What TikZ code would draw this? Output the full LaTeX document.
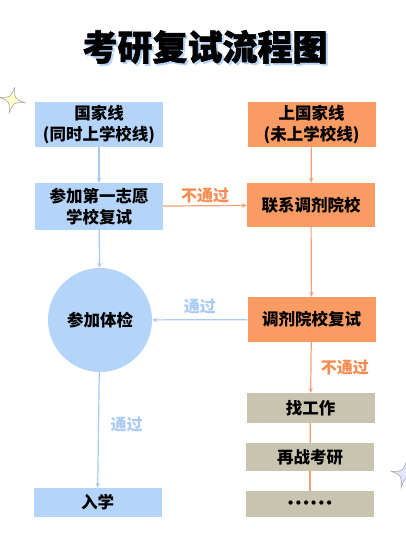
\documentclass[tikz,border=0pt]{standalone}
\usepackage{fontspec}
\newfontfamily\cjk{Noto Sans CJK SC}
\newfontfamily\cjktitle[FakeBold=1.6]{Noto Sans CJK SC}
\newfontfamily\dotfont{DejaVu Sans}
\usetikzlibrary{arrows.meta,positioning,calc}

\definecolor{boxblue}{HTML}{B5D4FA}
\definecolor{boxor}{HTML}{F99B63}
\definecolor{boxgray}{HTML}{C9C4B0}
\definecolor{lineblue}{HTML}{A9CAF3}
\definecolor{lineor}{HTML}{F5A079}
\definecolor{txtor}{HTML}{F68C50}
\definecolor{txtblue}{HTML}{ABCBF2}

\begin{document}
\begin{tikzpicture}[x=1pt,y=-1pt,
  box/.style={rectangle,minimum width=128pt,inner sep=0pt,align=center,
    font=\cjk\bfseries\fontsize{16.5}{20.5}\selectfont},
  bluebox/.style={box,fill=boxblue},
  orbox/.style={box,fill=boxor},
  graybox/.style={box,fill=boxgray},
  blar/.style={-{Stealth[length=5pt,width=4.5pt]},lineblue,line width=1.2pt},
  orar/.style={-{Stealth[length=5pt,width=4.5pt]},lineor,line width=1.2pt},
  lbl/.style={font=\cjk\bfseries\fontsize{16}{18}\selectfont}]

 \useasboundingbox[fill=white] (0,0) rectangle (405,552);

 % title with shadow
 \node[font=\cjktitle\bfseries\fontsize{35}{40}\selectfont,text=boxblue] (titleshadow) at (207,49) {考研复试流程图};
 \node[font=\cjktitle\bfseries\fontsize{35}{40}\selectfont] (title) at (205,47) {考研复试流程图};

 % sparkles
 \draw[fill=yellow!20,draw=gray!70,line width=0.6pt,rotate around={-12:(12,100)}]
   (12,87) .. controls (14,98) .. (25,100) .. controls (14,102) .. (12,113)
   .. controls (10,102) .. (-1,100) .. controls (10,98) .. cycle;
 \draw[fill=blue!10,draw=gray!70,line width=0.6pt,rotate around={-12:(404,474)}]
   (404,460) .. controls (406,472) .. (418,474) .. controls (406,476) .. (404,488)
   .. controls (402,476) .. (391,474) .. controls (402,472) .. cycle;

 % left column
 \node[bluebox,minimum height=45pt] (gjx) at (99,124.5) {国家线\\(同时上学校线)};
 \node[bluebox,minimum height=47pt] (fs1) at (99,206.5) {参加第一志愿\\学校复试};
 \node[circle,fill=boxblue,minimum size=104pt,inner sep=0pt,
   font=\cjk\bfseries\fontsize{16.5}{20}\selectfont] (tijian) at (100,320) {参加体检};
 \node[bluebox,minimum height=29pt] (ruxue) at (97.5,502.5) {入学};

 % right column
 \node[orbox,minimum height=45pt] (sgjx) at (311.5,124.5) {上国家线\\(未上学校线)};
 \node[orbox,minimum height=44pt] (lxtj) at (311,205) {联系调剂院校};
 \node[orbox,minimum height=45pt] (tjfs) at (311.5,319.5) {调剂院校复试};
 \node[graybox,minimum height=30pt] (zgz) at (310.5,408) {找工作};
 \node[graybox,minimum height=28pt] (zzky) at (310,457) {再战考研};
 \node[graybox,minimum height=26pt] (more) at (310,504)
   {\dotfont\bfseries\fontsize{12}{12}\selectfont ••••••};

 % connectors
 \draw[blar] (gjx) -- (fs1);
 \draw[blar] (fs1) -- (tijian);
 \draw[blar] (tijian) -- node[lbl,text=txtblue,right=8pt,pos=0.45] (tg2) {通过} (ruxue);
 \draw[orar] (sgjx) -- (lxtj);
 \draw[orar] (fs1) -- node[lbl,text=txtor,above=-1pt] (btg1) {不通过} (lxtj);
 \draw[orar] (lxtj) -- (tjfs);
 \draw[blar] (tjfs) -- node[lbl,text=txtblue,above=2pt] (tg1) {通过} (tijian);
 \draw[orar] (tjfs) -- node[lbl,text=txtor,right=6pt] (btg2) {不通过} (zgz);
 \draw[lineor,line width=1.2pt] (zgz) -- (zzky);
 \draw[lineor,line width=1.2pt] (zzky) -- (more);
\end{tikzpicture}
\end{document}
